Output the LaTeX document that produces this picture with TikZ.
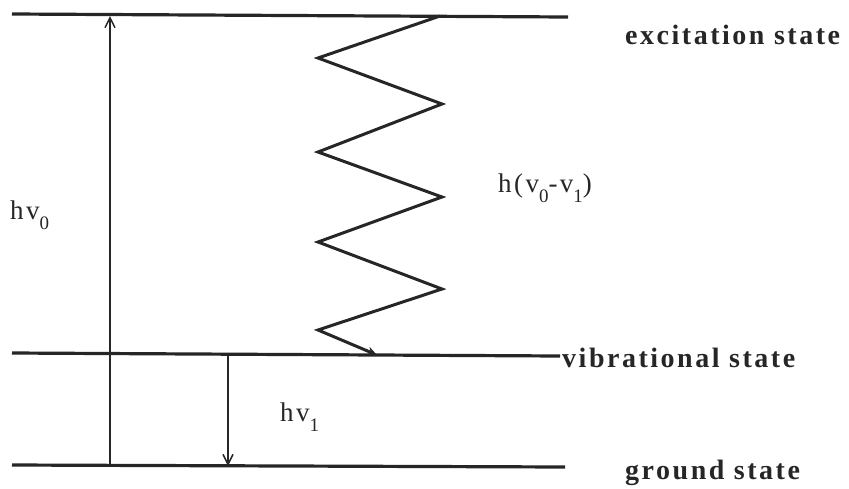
\documentclass[tikz,border=0pt]{standalone}
\usepackage{fontspec}
\setmainfont{Liberation Serif}
\newfontfamily\lblfont[LetterSpace=9]{Liberation Serif}
\usetikzlibrary{arrows.meta}
\begin{document}
\begin{tikzpicture}[x=1pt,y=-1pt,
  level/.style={line width=3.2pt, draw=black!85},
  photon/.style={line width=2pt, draw=black!85, -{Straight Barb[length=10pt,width=10pt,line width=1.5pt]}},
  relax/.style={line width=3pt, draw=black!85, line join=miter, -{Stealth[length=10pt,width=9pt]}},
  statelbl/.style={anchor=base west, inner sep=0pt, font=\lblfont\bfseries\fontsize{28}{32}\selectfont, text=black!85},
  eqlbl/.style={anchor=base west, inner sep=0pt, font=\lblfont\fontsize{27}{30}\selectfont, text=black!85}]
\useasboundingbox (0,0) rectangle (849,488);
% levels
\coordinate (e1) at (12,14); \coordinate (e2) at (568,17);
\coordinate (v1) at (12,353); \coordinate (v2) at (560,356);
\coordinate (g1) at (12,465); \coordinate (g2) at (565,467);
\draw[level] (e1) -- (e2);
\draw[level] (v1) -- (v2);
\draw[level] (g1) -- (g2);
% absorption arrow
\coordinate (a0) at (110,466); \coordinate (a1) at (110,16);
\draw[photon] (a0) -- (a1);
% emission arrow
\coordinate (b0) at (228,355); \coordinate (b1) at (228,466);
\draw[photon] (b0) -- (b1);
% zigzag relaxation
\coordinate (z0) at (440,16);
\coordinate (z1) at (318,58);
\coordinate (z2) at (442,104);
\coordinate (z3) at (318,152);
\coordinate (z4) at (442,197);
\coordinate (z5) at (318,242);
\coordinate (z6) at (442,289);
\coordinate (z7) at (318,330);
\coordinate (z8) at (377,355);
\draw[relax] (z0) -- (z1) -- (z2) -- (z3) -- (z4) -- (z5) -- (z6) -- (z7) -- (z8);
% labels
\node[statelbl] (exc) at (625,44) {excitation state};
\node[statelbl] (vib) at (562,367) {vibrational state};
\node[statelbl] (gnd) at (625,479) {ground state};
\node[eqlbl] (hv0) at (10,219) {hv\raisebox{-10pt}{\fontsize{19}{22}\selectfont 0}};
\node[eqlbl] (hvd) at (498,192) {h(v\raisebox{-10pt}{\fontsize{19}{22}\selectfont 0}-v\raisebox{-10pt}{\fontsize{19}{22}\selectfont 1})};
\node[eqlbl] (hv1) at (280,421) {hv\raisebox{-10pt}{\fontsize{19}{22}\selectfont 1}};
\end{tikzpicture}
\end{document}
